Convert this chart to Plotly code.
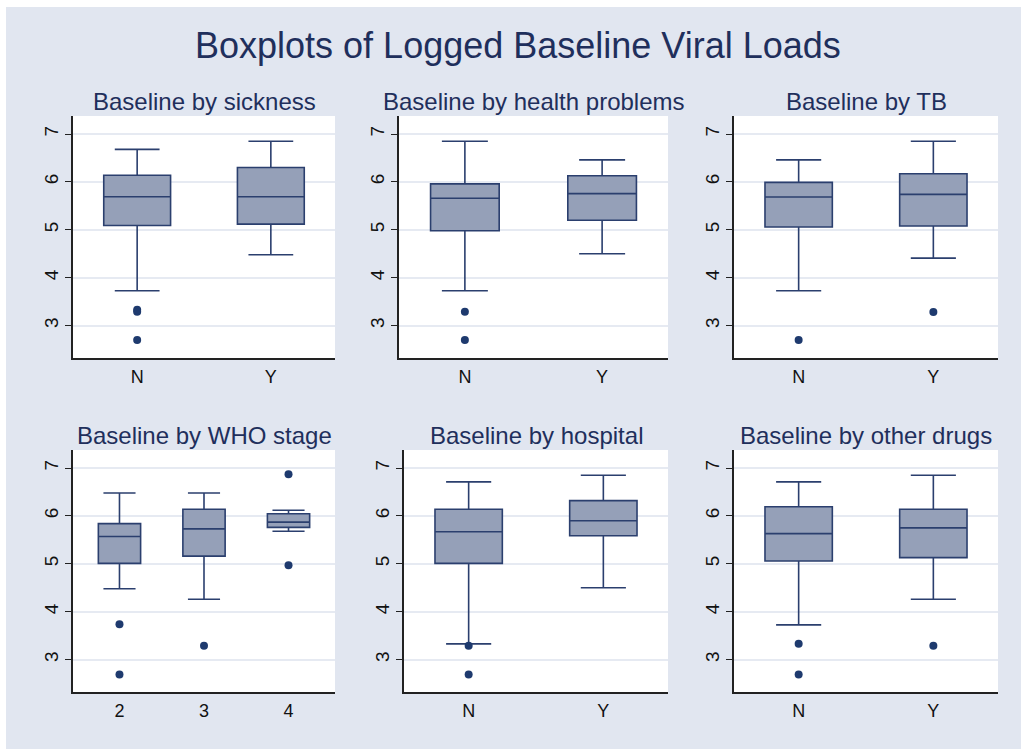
import plotly.graph_objects as go

# ---------------- data ----------------
main_title = "Boxplots of Logged Baseline Viral Loads"
panel_titles = ["Baseline by sickness", "Baseline by health problems", "Baseline by TB",
                "Baseline by WHO stage", "Baseline by hospital", "Baseline by other drugs"]

categories = [["N", "Y"], ["N", "Y"], ["N", "Y"],
              ["2", "3", "4"], ["N", "Y"], ["N", "Y"]]

lower_whisker = [[3.73, 4.48], [3.73, 4.50], [3.73, 4.41],
                 [4.48, 4.26, 5.68], [3.33, 4.50], [3.725, 4.26]]
q1_values = [[5.09, 5.12], [4.98, 5.20], [5.06, 5.08],
             [5.01, 5.16, 5.76], [5.01, 5.585], [5.06, 5.13]]
median_values = [[5.69, 5.69], [5.66, 5.755], [5.685, 5.74],
                 [5.57, 5.73, 5.87], [5.67, 5.90], [5.63, 5.75]]
q3_values = [[6.14, 6.30], [5.96, 6.13], [5.99, 6.17],
             [5.84, 6.14, 6.045], [6.14, 6.32], [6.19, 6.14]]
upper_whisker = [[6.68, 6.85], [6.85, 6.46], [6.46, 6.85],
                 [6.48, 6.48, 6.12], [6.71, 6.85], [6.71, 6.85]]
outliers = [
    [[3.33, 3.29, 2.70], []],
    [[3.29, 2.70], []],
    [[2.70], [3.285]],
    [[3.74, 2.69], [3.29], [6.87, 4.97]],
    [[3.29, 2.69], []],
    [[3.33, 2.69], [3.29]],
]
y_ticks = [3, 4, 5, 6, 7]

# ---------------- styling ----------------
W, H = 1021, 749
BG = "#E1E6F0"
NAVY = "#1F2F5C"
BOX_FILL = "#95A0B8"
BOX_LINE = "#2B3F6E"
GRID = "#E6EAF2"
FONT = "Liberation Sans, Arial, sans-serif"

# plot areas in pixels (left, right, top, bottom)
areas = [(73, 335, 116, 358), (399, 668, 116, 358), (734, 998, 116, 358),
         (73, 335, 450, 692), (404, 668, 450, 692), (734, 998, 450, 692)]

fig = go.Figure()
layout = dict(
    width=W, height=H, margin=dict(l=0, r=0, t=0, b=0),
    paper_bgcolor=BG, plot_bgcolor="white", showlegend=False,
    font=dict(family=FONT, color="#222222"),
)
annotations = []
for i in range(6):
    n = len(categories[i])
    xs = list(range(1, n + 1))
    ax = "" if i == 0 else str(i + 1)
    fig.add_trace(go.Box(
        x=xs, q1=q1_values[i], median=median_values[i], q3=q3_values[i],
        lowerfence=lower_whisker[i], upperfence=upper_whisker[i],
        width=0.5, whiskerwidth=0.67 if n == 2 else 0.76,
        fillcolor=BOX_FILL, line=dict(color=BOX_LINE, width=1.6),
        boxpoints=False, hoverinfo="skip",
        xaxis="x" + ax, yaxis="y" + ax,
    ))
    ox, oy = [], []
    for k, vals in enumerate(outliers[i]):
        for v in vals:
            ox.append(xs[k]); oy.append(v)
    if ox:
        fig.add_trace(go.Scatter(
            x=ox, y=oy, mode="markers",
            marker=dict(color="#1E3A6E", size=8),
            xaxis="x" + ax, yaxis="y" + ax, hoverinfo="skip",
        ))
    l, r, t, b = areas[i]
    xr = [0.52, 2.48] if n == 2 else [0.45, 3.55]
    layout["xaxis" + ax] = dict(
        domain=[l / W, r / W], range=xr, anchor="y" + ax,
        tickvals=xs, ticktext=categories[i], ticks="", showgrid=False,
        zeroline=False, showline=True, linecolor="#222222", linewidth=1.5,
        tickfont=dict(size=18, family=FONT, color="#111111"),
        ticklabelstandoff=2,
    )
    layout["yaxis" + ax] = dict(
        domain=[1 - b / H, 1 - t / H], range=[2.325, 7.376], anchor="x" + ax,
        tickvals=y_ticks, ticks="outside", ticklen=6, tickwidth=1.2, tickcolor="#222222",
        tickangle=-90, showgrid=True, gridcolor=GRID, gridwidth=1.5,
        zeroline=False, showline=True, linecolor="#222222", linewidth=1.5,
        tickfont=dict(size=19, family=FONT, color="#111111"),
        ticklabelstandoff=0,
    )
    annotations.append(dict(
        text=panel_titles[i], x=(l + r) / 2 / W, y=1 - (t - 15) / H,
        xref="paper", yref="paper", xanchor="center", yanchor="middle",
        showarrow=False, font=dict(size=24, family=FONT, color=NAVY),
    ))

annotations.append(dict(
    text=main_title, x=518 / W, y=1 - 45 / H, xref="paper", yref="paper",
    xanchor="center", yanchor="middle", showarrow=False,
    font=dict(size=36, family=FONT, color=NAVY),
))
layout["annotations"] = annotations
layout["shapes"] = [
    dict(type="rect", xref="paper", yref="paper", x0=0, x1=6 / W, y0=0, y1=1,
         fillcolor="white", line=dict(width=0), layer="above"),
    dict(type="rect", xref="paper", yref="paper", x0=0, x1=1, y0=1 - 7 / H, y1=1,
         fillcolor="white", line=dict(width=0), layer="above"),
]
fig.update_layout(**layout)
fig.write_html("out.html")
